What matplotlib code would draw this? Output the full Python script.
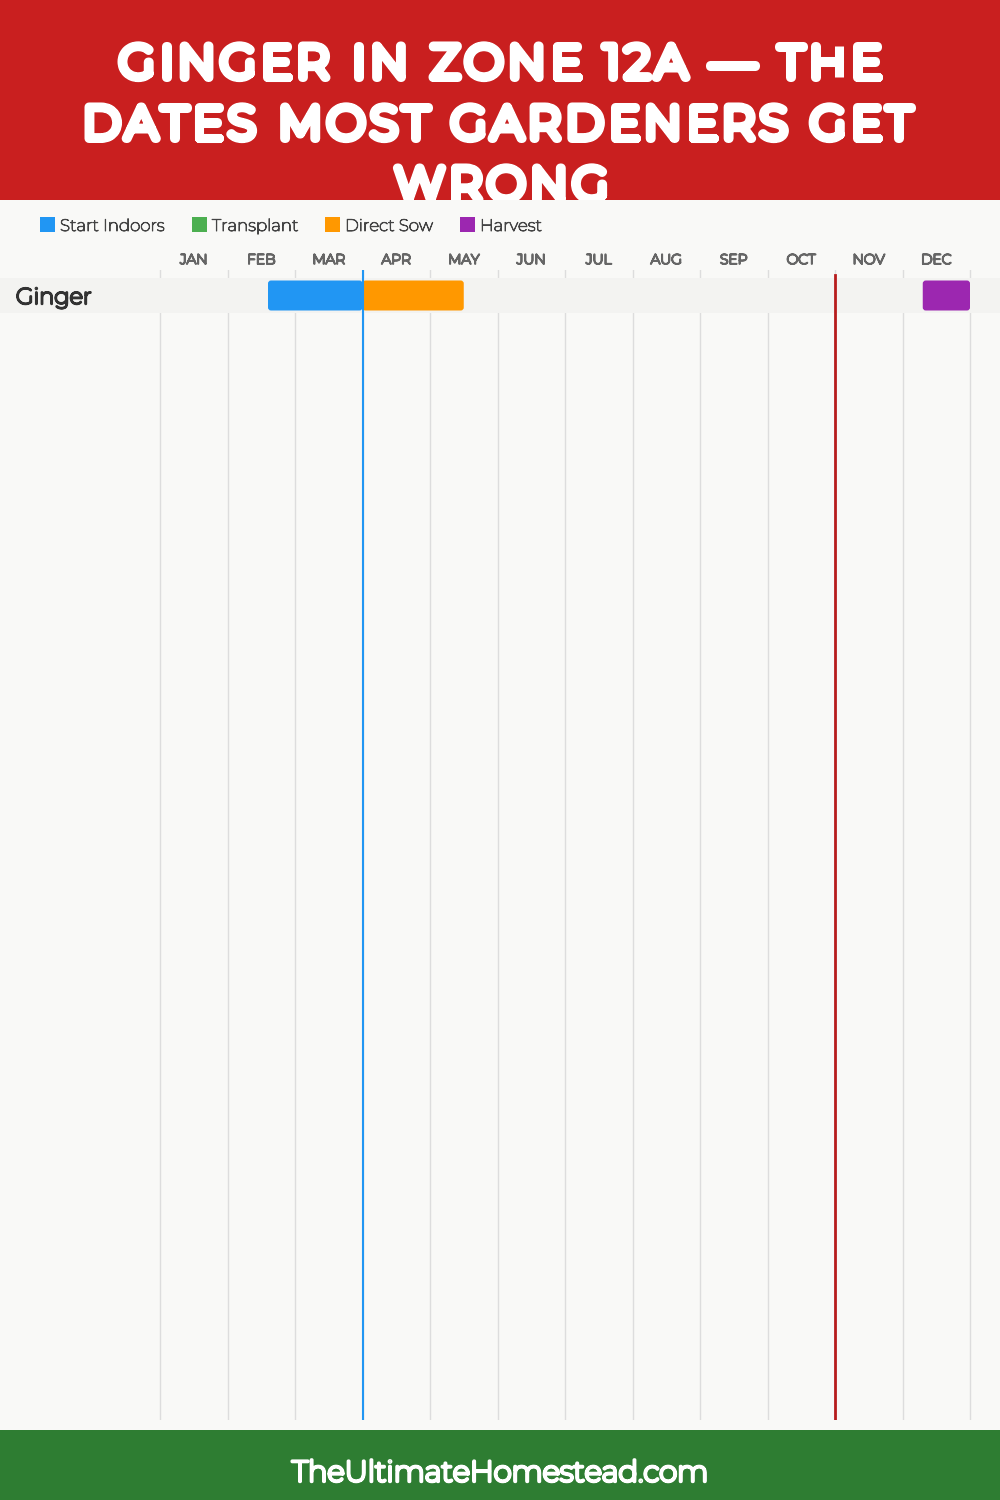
import matplotlib
matplotlib.use("Agg")
import matplotlib.pyplot as plt
import matplotlib.patheffects as pe
from matplotlib.patches import Rectangle, FancyBboxPatch, PathPatch
from matplotlib.transforms import blended_transform_factory, IdentityTransform
from matplotlib.textpath import TextPath
from matplotlib.font_manager import FontProperties, findfont
from matplotlib.ft2font import FT2Font

# ---- data ----
title_lines = ["GINGER IN ZONE 12A — THE", "DATES MOST GARDENERS GET", "WRONG"]
footer_text = "TheUltimateHomestead.com"
months = ["JAN", "FEB", "MAR", "APR", "MAY", "JUN", "JUL", "AUG", "SEP", "OCT", "NOV", "DEC"]
crops = ["Ginger"]
legend_labels = ["Start Indoors", "Transplant", "Direct Sow", "Harvest"]
legend_colors = ["#2196F3", "#4CAF50", "#FF9800", "#9C27B0"]
# (crop index, start month, end month)
start_indoors = [(0, 1.6, 3.0)]
transplant = []
direct_sow = [(0, 3.0, 4.5)]
harvest = [(0, 11.3, 12.0)]
last_frost = 3.0
first_frost = 10.0

W, H = 1000, 1500
FAM = ["Montserrat", "DejaVu Sans"]
fig = plt.figure(figsize=(10, 15), dpi=100)
fig.patch.set_facecolor("#F9F9F7")

def fy(px):
    return 1 - px / H

def bold(lw, color):
    return [pe.withStroke(linewidth=lw, foreground=color)]

# ---- header ----
hax = fig.add_axes([0, fy(200), 1, 200 / H])
hax.set_xlim(0, 1); hax.set_ylim(0, 1)
hax.set_autoscale_on(False)
hax.set_xticks([]); hax.set_yticks([])
for s in hax.spines.values():
    s.set_visible(False)
hax.set_facecolor("#C91F1F")

fp_title = FontProperties(family="Montserrat")
ft = FT2Font(findfont(fp_title))
T_SIZE = 45.0
T_LW = 6.5                  # points
T_LWPX = T_LW * 100 / 72.0  # pixels

def char_info(c, size):
    ft.set_size(size, 72)
    g = ft.load_char(ord(c))
    adv = g.linearHoriAdvance / 65536
    if c == " ":
        return adv, None
    ext = TextPath((0, 0), c, size=size, prop=fp_title).get_extents()
    return adv, (ext.x0, ext.x1)

def layout(text, size, t, sp):
    xs, x = [], 0.0
    lo, hi = 1e9, -1e9
    for c in text:
        adv, ext = char_info(c, size)
        xs.append(x)
        if ext is None:
            x += sp
        else:
            lo = min(lo, x + ext[0]); hi = max(hi, x + ext[1])
            x += adv + t
    return xs, lo - T_LWPX / 2, hi + T_LWPX / 2

# calibrate letter tracking and word spacing against the header's measured word widths
_, a0, b0 = layout("GINGER", T_SIZE, 0.0, 0.0)
TRACK = (213 - (b0 - a0)) / 5.0
_, a1, b1 = layout(title_lines[0], T_SIZE, TRACK, 0.0)
SPACE = (765 - (b1 - a1)) / title_lines[0].count(" ")

for i, line in enumerate(title_lines):
    xs, lo, hi = layout(line, T_SIZE, TRACK, SPACE)
    shift = W / 2 - (lo + hi) / 2
    y = H - (82 + i * 61 - T_LWPX / 2)
    for c, x in zip(line, xs):
        if c == " ":
            continue
        tp = TextPath((x + shift, y), c, size=T_SIZE, prop=fp_title)
        hax.add_patch(PathPatch(tp, fc="white", ec="white", lw=T_LW,
                                joinstyle="round", transform=IdentityTransform()))

# ---- chart ----
x0_px, x1_px = 160, 970
mw = (x1_px - x0_px) / 12.0
top_px, bot_px = 270, 1420
row_px = 35.0
row_center_px = 295.5
ax = fig.add_axes([0, fy(bot_px), 1, (bot_px - top_px) / H])
ax.set_xlim(-x0_px / mw, 12 + (W - x1_px) / mw)
ytop = -(row_center_px - top_px) / row_px
ax.set_ylim(ytop + (bot_px - top_px) / row_px, ytop)
ax.set_facecolor("none")
ax.set_xticks([]); ax.set_yticks([])
for s in ax.spines.values():
    s.set_visible(False)

# grid lines
for m in range(13):
    ax.axvline(m, color="#DDDDDD", lw=1, zorder=1)

# row bands + crop labels
for r, crop in enumerate(crops):
    ax.axhspan(r - 0.5, r + 0.5, color="#F3F3F1", zorder=2, lw=0)
    fig.text(16 / W, fy(row_center_px + 2), crop, fontsize=16.3,
             color="#333333", ha="left", va="center", family=FAM,
             path_effects=bold(1.7, "#333333"))

bar_h = 30 / row_px
asp = mw / row_px
def draw(spans, color):
    for (r, s, e) in spans:
        p = FancyBboxPatch((s, r - bar_h / 2), e - s, bar_h,
                           boxstyle="round,pad=0,rounding_size=0.045",
                           mutation_aspect=asp, fc=color, ec="none", zorder=3)
        ax.add_patch(p)

draw(start_indoors, legend_colors[0])
draw(transplant, legend_colors[1])
draw(direct_sow, legend_colors[2])
draw(harvest, legend_colors[3])

ax.axvline(last_frost, color="#2196F3", lw=1.5, zorder=4)
ax.axvline(first_frost, color="#B71C1C", lw=2, ymax=1 - 5 / (bot_px - top_px), zorder=4)

# month labels
tr = blended_transform_factory(ax.transData, fig.transFigure)
for i, m in enumerate(months):
    ax.text(i + 0.5, fy(260.5), m, transform=tr, ha="center", va="center",
            fontsize=10, color="#666666", clip_on=False, family=FAM,
            path_effects=bold(1.3, "#666666"))

# legend
leg_x = [40, 192, 325, 460]
for x, lab, col in zip(leg_x, legend_labels, legend_colors):
    fig.patches.append(Rectangle((x / W, fy(232)), 15 / W, 15 / H,
                                 transform=fig.transFigure, fc=col, ec="none"))
    fig.text((x + 20) / W, fy(226), lab, fontsize=12, color="#444444",
             ha="left", va="center", family=FAM,
             path_effects=bold(0.7, "#444444"))

# ---- footer ----
fig.patches.append(Rectangle((0, 0), 1, 70 / H, transform=fig.transFigure,
                             fc="#2E7D32", ec="none"))
fig.text(0.5, fy(1474), footer_text, fontsize=21, color="white",
         ha="center", va="center", family=FAM,
         path_effects=bold(2.4, "white"))

fig.savefig("out.png", dpi=100, facecolor=fig.get_facecolor())
